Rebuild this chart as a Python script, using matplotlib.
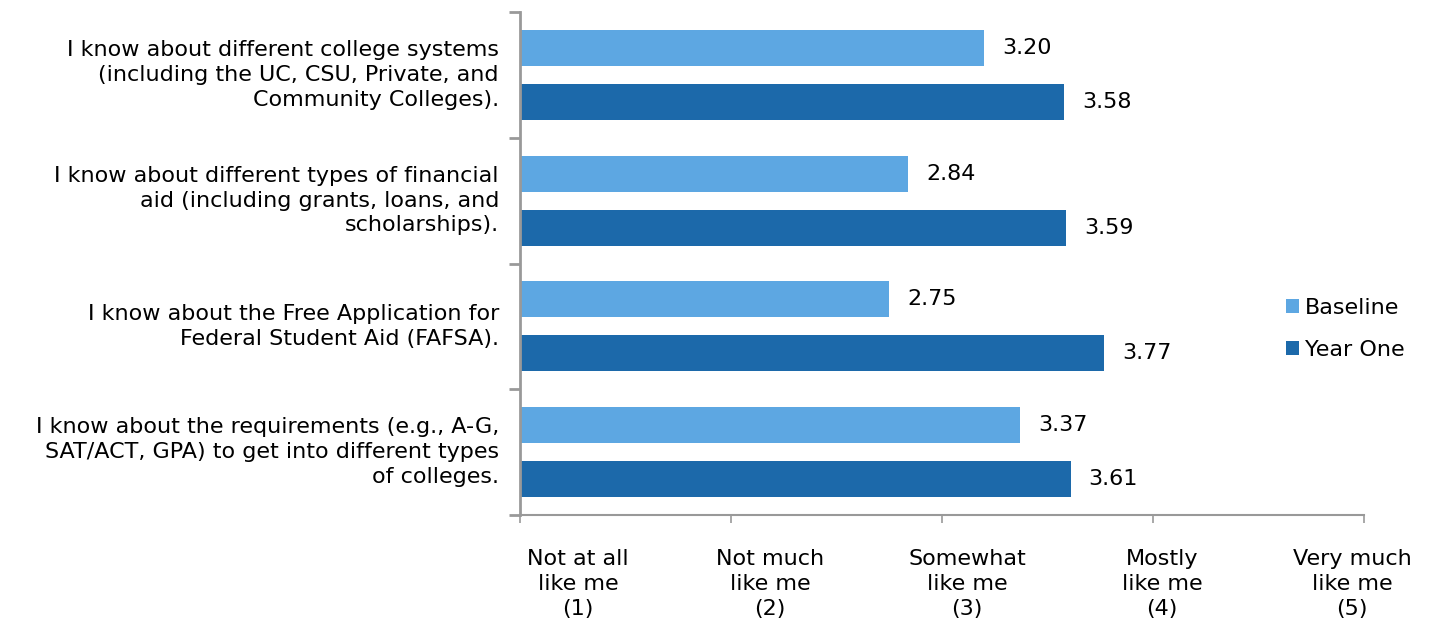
import matplotlib
matplotlib.use("Agg")
import matplotlib.pyplot as plt
import numpy as np

categories = [
    "I know about different college systems\n(including the UC, CSU, Private, and\nCommunity Colleges).",
    "I know about different types of financial\naid (including grants, loans, and\nscholarships).",
    "I know about the Free Application for\nFederal Student Aid (FAFSA).",
    "I know about the requirements (e.g., A-G,\nSAT/ACT, GPA) to get into different types\nof colleges.",
]
baseline = [3.20, 2.84, 2.75, 3.37]
year_one = [3.58, 3.59, 3.77, 3.61]
series_names = ["Baseline", "Year One"]
scale_labels = ["Not at all\nlike me\n(1)", "Not much\nlike me\n(2)", "Somewhat\nlike me\n(3)",
                "Mostly\nlike me\n(4)", "Very much\nlike me\n(5)"]

c_base = "#5DA7E2"
c_year = "#1C69AA"
gray = "#999999"

plt.rcParams['font.family'] = ['DejaVu Sans']
FS = 16

fig = plt.figure(figsize=(14.29, 6.27), dpi=100)
W, H = 1429, 627
ax = fig.add_axes([520 / W, 1 - 515 / H, (1364 - 520) / W, (515 - 12) / H])

n = len(categories)
y = np.arange(n)
bh = 0.286
off = 0.214
b1 = ax.barh(y - off, [v - 1 for v in baseline], left=1, height=bh, color=c_base, label=series_names[0])
b2 = ax.barh(y + off, [v - 1 for v in year_one], left=1, height=bh, color=c_year, label=series_names[1])

for yy, v in zip(y - off, baseline):
    ax.text(v + 0.085, yy, f"{v:.2f}", va="center", ha="left", fontsize=FS)
for yy, v in zip(y + off, year_one):
    ax.text(v + 0.085, yy, f"{v:.2f}", va="center", ha="left", fontsize=FS)

ax.set_xlim(1, 5)
ax.set_ylim(n - 0.5, -0.5)

ax.set_yticks(np.arange(n + 1) - 0.5)
ax.set_yticklabels([])
ax.set_xticks([1, 2, 3, 4, 5])
ax.set_xticklabels([])
ax.tick_params(axis="y", length=8, width=2, color=gray, direction="out")
ax.tick_params(axis="x", length=6, width=1.2, color=gray, direction="out")

for s in ["top", "right"]:
    ax.spines[s].set_visible(False)
ax.spines["left"].set_color(gray)
ax.spines["left"].set_linewidth(2)
ax.spines["bottom"].set_color(gray)
ax.spines["bottom"].set_linewidth(1.5)

for yy, lab in zip(y, categories):
    ax.annotate(lab, xy=(0, yy), xycoords=ax.get_yaxis_transform(), xytext=(-21, 0),
                textcoords="offset pixels", ha="right", va="center", fontsize=FS, linespacing=1.3)

xcenters = [578, 770, 967, 1162, 1352]
for xc, lab in zip(xcenters, scale_labels):
    fig.text(xc / W, 1 - 584 / H, lab, ha="center", va="center", fontsize=FS, linespacing=1.3)

leg = fig.legend(handles=[b1, b2], labels=series_names, loc="center left",
                 bbox_to_anchor=(1266 / W, 1 - 329 / H), frameon=False, fontsize=FS,
                 handlelength=0.6, handleheight=0.6, handletextpad=0.25, labelspacing=1.0)

fig.savefig("out.png", dpi=100)
